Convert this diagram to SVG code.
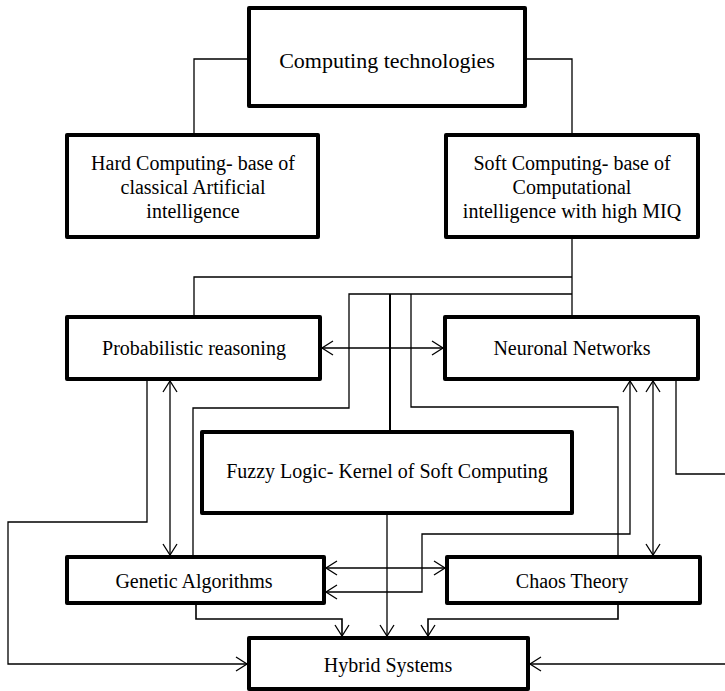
<svg xmlns="http://www.w3.org/2000/svg" width="725" height="691" viewBox="0 0 725 691">
<style>
.box{fill:#fff;stroke:#000;stroke-width:4;stroke-linejoin:round}
.t{font-family:"Liberation Serif","Times New Roman",serif;font-size:20px;fill:#000;text-anchor:middle}
.c{fill:none;stroke:#000;stroke-width:1.3}
.a{marker-end:url(#ah)}
.d{marker-start:url(#ah);marker-end:url(#ah)}
</style>
<defs>
<marker id="ah" markerUnits="userSpaceOnUse" markerWidth="14" markerHeight="16" refX="12" refY="8" orient="auto-start-reverse">
<path d="M1,1 L12,8 L1,15" fill="none" stroke="#000" stroke-width="1.3"/>
</marker>
</defs>
<rect width="725" height="691" fill="#fff"/>
<g id="connectors">
<path class="c" d="M248,59 H194 V135"/>
<path class="c" d="M526,59 H572 V135"/>
<path class="c" d="M572,237 V317"/>
<path class="c" d="M572,277 H194 V317"/>
<path class="c" d="M572,294 H349 V408 H193 V557"/>
<path class="c" style="stroke-width:2" d="M390,294 V432"/>
<path class="c" d="M411,294 V407 H618 V557"/>
<path class="c d" d="M322,348 H443"/>
<path class="c d" d="M170,381 V555"/>
<path class="c d" d="M653,381 V555"/>
<path class="c d" d="M630,381 V534 H422 V592 H326"/>
<path class="c d" d="M326,568 H445"/>
<path class="c a" d="M147,381 V522 H8 V664 H247"/>
<path class="c" d="M676,381 V474 H725"/>
<path class="c a" d="M725,664 H530"/>
<path class="c a" style="stroke-width:1.6" d="M196,605 V619 H342 V636"/>
<path class="c a" style="stroke-width:1.6" d="M618,605 V619 H428 V636"/>
<path class="c a" d="M387,515 V636"/>
</g>
<g id="computing">
<rect class="box" x="249" y="8" width="276" height="98"/>
<text class="t" x="387" y="68" style="font-size:22px">Computing technologies</text>
</g>
<g id="hard">
<rect class="box" x="67" y="135" width="251" height="102"/>
<text class="t" x="193" y="170">Hard Computing- base of</text>
<text class="t" x="193" y="194">classical Artificial</text>
<text class="t" x="193" y="218">intelligence</text>
</g>
<g id="soft">
<rect class="box" x="446" y="135" width="252" height="102"/>
<text class="t" x="572" y="170">Soft Computing- base of</text>
<text class="t" x="572" y="194">Computational</text>
<text class="t" x="572" y="218">intelligence with high MIQ</text>
</g>
<g id="probabilistic">
<rect class="box" x="67" y="317" width="253" height="62"/>
<text class="t" x="194" y="355">Probabilistic reasoning</text>
</g>
<g id="neuronal">
<rect class="box" x="445" y="317" width="253" height="62"/>
<text class="t" x="572" y="355">Neuronal Networks</text>
</g>
<g id="fuzzy">
<rect class="box" x="202" y="432" width="370" height="81"/>
<text class="t" x="387" y="478">Fuzzy Logic- Kernel of Soft Computing</text>
</g>
<g id="genetic">
<rect class="box" x="67" y="557" width="257" height="46"/>
<text class="t" x="194" y="588">Genetic Algorithms</text>
</g>
<g id="chaos">
<rect class="box" x="447" y="557" width="253" height="46"/>
<text class="t" x="572" y="588">Chaos Theory</text>
</g>
<g id="hybrid">
<rect class="box" x="249" y="638" width="279" height="51"/>
<text class="t" x="388" y="672">Hybrid Systems</text>
</g>
</svg>
